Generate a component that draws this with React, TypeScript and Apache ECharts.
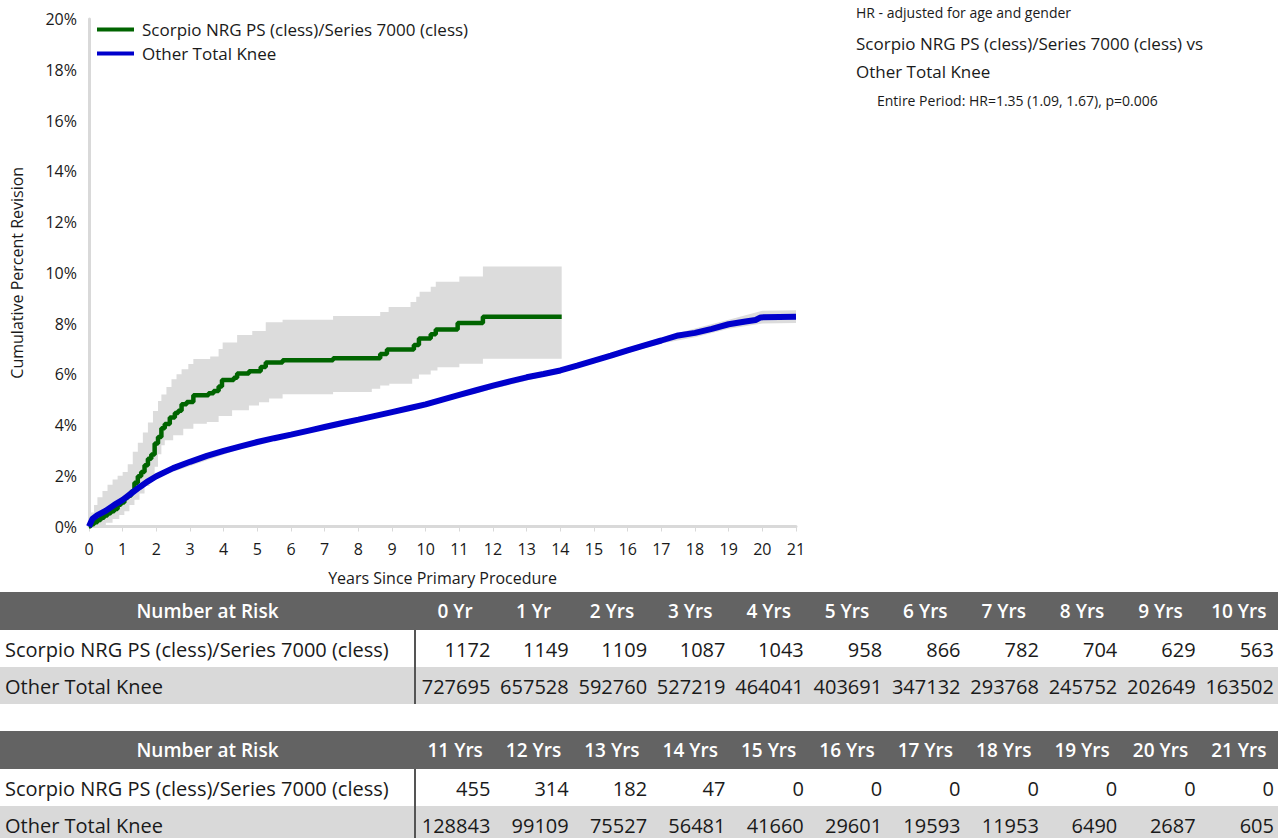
import React, { useEffect, useRef } from 'react';
import * as echarts from 'echarts';

const FONT = '"Open Sans", "Noto Sans", sans-serif';

const seriesNames = ['Scorpio NRG PS (cless)/Series 7000 (cless)', 'Other Total Knee'];

// Scorpio KM estimate (step function: value holds from time onward)
const scorpioTimes = [0, 0.05, 0.15, 0.25, 0.35, 0.45, 0.55, 0.65, 0.75, 0.85, 0.95, 1.05, 1.15, 1.25, 1.35, 1.45, 1.55, 1.65, 1.75, 1.85, 1.95, 2.05, 2.15, 2.25, 2.4, 2.55, 2.65, 2.75, 2.9, 3.1, 3.55, 3.7, 3.85, 3.95, 4.3, 4.4, 4.75, 5.1, 5.25, 5.75, 7.25, 8.65, 8.85, 9.65, 9.8, 10.15, 10.3, 10.95, 11.7, 14.04];
const scorpioCum = [0, 0.09, 0.17, 0.26, 0.34, 0.43, 0.52, 0.6, 0.69, 0.86, 0.95, 1.12, 1.21, 1.38, 1.72, 1.98, 2.15, 2.41, 2.67, 2.84, 3.27, 3.53, 3.87, 4.04, 4.3, 4.47, 4.56, 4.82, 4.91, 5.17, 5.25, 5.34, 5.52, 5.77, 5.86, 6.03, 6.12, 6.29, 6.46, 6.55, 6.63, 6.8, 6.98, 7.15, 7.41, 7.58, 7.76, 8.02, 8.27, 8.27];

const scorpioUpperTimes = [0, 0.05, 0.15, 0.25, 0.4, 0.55, 0.7, 0.85, 1.0, 1.15, 1.3, 1.45, 1.6, 1.75, 1.9, 2.05, 2.15, 2.3, 2.45, 2.6, 2.75, 2.95, 3.1, 3.6, 3.85, 3.97, 4.4, 4.85, 5.25, 5.75, 7.25, 8.65, 8.9, 9.55, 9.72, 9.82, 10.15, 10.3, 11.0, 11.7, 14.04];
const scorpioUpper = [0, 0.55, 0.85, 1.15, 1.4, 1.65, 1.85, 2.0, 2.15, 2.45, 2.95, 3.3, 3.7, 4.1, 4.55, 4.95, 5.2, 5.5, 5.8, 6.0, 6.2, 6.4, 6.6, 6.7, 7.0, 7.25, 7.55, 7.7, 8.05, 8.15, 8.3, 8.45, 8.65, 8.85, 9.05, 9.25, 9.45, 9.65, 9.85, 10.25, 10.25];

const scorpioLowerTimes = [0, 0.3, 0.5, 0.7, 0.9, 1.05, 1.2, 1.35, 1.5, 1.65, 1.8, 1.95, 2.05, 2.15, 2.25, 2.5, 2.8, 3.1, 3.5, 3.85, 4.25, 4.75, 5.05, 5.35, 5.75, 7.25, 8.4, 8.65, 8.92, 9.6, 9.8, 10.15, 10.35, 11.0, 11.7, 14.04];
const scorpioLower = [0, 0.05, 0.15, 0.3, 0.45, 0.6, 0.85, 1.05, 1.3, 1.6, 1.95, 2.35, 2.85, 3.2, 3.4, 3.6, 3.85, 4.05, 4.12, 4.35, 4.58, 4.77, 4.9, 5.04, 5.21, 5.3, 5.43, 5.56, 5.63, 5.82, 5.99, 6.15, 6.28, 6.41, 6.61, 6.61];

// Other Total Knee
const otherTimes = [0, 0.1, 0.25, 0.5, 0.75, 1.0, 1.25, 1.5, 1.75, 2.0, 2.5, 3.0, 3.5, 4.0, 4.5, 5.0, 5.5, 6.0, 6.5, 7.0, 7.5, 8.0, 8.5, 9.0, 9.5, 10.0, 10.5, 11.0, 11.5, 12.0, 12.5, 13.0, 13.5, 14.0, 14.5, 15.0, 15.5, 16.0, 16.5, 17.0, 17.5, 18.0, 18.5, 19.0, 19.5, 19.8, 19.95, 20.5, 21.0];
const otherCum = [0, 0.3, 0.45, 0.62, 0.85, 1.05, 1.3, 1.55, 1.78, 1.98, 2.3, 2.55, 2.78, 2.98, 3.16, 3.33, 3.48, 3.62, 3.77, 3.92, 4.07, 4.21, 4.36, 4.51, 4.66, 4.81, 5.0, 5.19, 5.37, 5.55, 5.72, 5.88, 6.01, 6.15, 6.34, 6.54, 6.73, 6.94, 7.14, 7.33, 7.53, 7.63, 7.79, 7.97, 8.08, 8.14, 8.24, 8.26, 8.27];

const otherBandTimes = [0, 2, 5, 10, 14, 16, 17, 18, 19, 20, 21];
const otherUpper = [0, 2.03, 3.37, 4.86, 6.22, 7.04, 7.45, 7.8, 8.15, 8.5, 8.52];
const otherLower = [0, 1.93, 3.29, 4.76, 6.08, 6.84, 7.21, 7.46, 7.79, 8.0, 8.02];

// Number at risk
const riskHeaders1 = ['0 Yr', '1 Yr', '2 Yrs', '3 Yrs', '4 Yrs', '5 Yrs', '6 Yrs', '7 Yrs', '8 Yrs', '9 Yrs', '10 Yrs'];
const riskScorpio1 = [1172, 1149, 1109, 1087, 1043, 958, 866, 782, 704, 629, 563];
const riskOther1 = [727695, 657528, 592760, 527219, 464041, 403691, 347132, 293768, 245752, 202649, 163502];
const riskHeaders2 = ['11 Yrs', '12 Yrs', '13 Yrs', '14 Yrs', '15 Yrs', '16 Yrs', '17 Yrs', '18 Yrs', '19 Yrs', '20 Yrs', '21 Yrs'];
const riskScorpio2 = [455, 314, 182, 47, 0, 0, 0, 0, 0, 0, 0];
const riskOther2 = [128843, 99109, 75527, 56481, 41660, 29601, 19593, 11953, 6490, 2687, 605];

const GREEN = '#006400';
const BLUE = '#0000cc';
const BAND = '#dcdcdc';

function stepPts(ts: number[], vs: number[]) {
  const out: number[][] = [];
  for (let i = 0; i < ts.length; i++) {
    if (i > 0) out.push([ts[i], vs[i - 1]]);
    out.push([ts[i], vs[i]]);
  }
  return out;
}
function pairs(ts: number[], vs: number[]) {
  return ts.map((t, i) => [t, vs[i]]);
}

function bandSeries(upper: number[][], lower: number[][], z: number) {
  return {
    type: 'custom',
    coordinateSystem: 'cartesian2d',
    silent: true,
    z,
    data: [[0, 0]],
    renderItem: (params: any, api: any) => {
      const pts = upper.map((p) => api.coord(p)).concat(lower.slice().reverse().map((p) => api.coord(p)));
      return { type: 'polygon', shape: { points: pts }, style: { fill: BAND } };
    },
  };
}

function buildTable(top: number, headers: string[], scorp: number[], other: number[]) {
  const els: any[] = [];
  const left = 0, right = 1278, sep = 415;
  const colStart = 416;
  const colW = (right - colStart) / headers.length;
  const hH = 38, rH = 37;
  els.push({ type: 'rect', shape: { x: left, y: top, width: right - left, height: hH }, style: { fill: '#636363' } });
  els.push({ type: 'rect', shape: { x: left, y: top + hH + rH, width: right - left, height: rH }, style: { fill: '#d9d9d9' } });
  els.push({ type: 'line', shape: { x1: sep, y1: top + hH, x2: sep, y2: top + hH + 2 * rH }, style: { stroke: '#555555', lineWidth: 2 } });
  const hdrStyle = { fill: '#ffffff', font: `600 19px ${FONT}`, align: 'center', verticalAlign: 'middle' };
  els.push({ type: 'text', x: sep / 2, y: top + hH / 2, style: { ...hdrStyle, text: 'Number at Risk' } });
  headers.forEach((h, i) => {
    els.push({ type: 'text', x: colStart + colW * (i + 0.5), y: top + hH / 2, style: { ...hdrStyle, text: h } });
  });
  const rowStyle = { fill: '#1a1a1a', font: `20px ${FONT}`, verticalAlign: 'middle' };
  const y1 = top + hH + rH / 2 + 1;
  const y2 = top + hH + rH * 1.5 + 1;
  els.push({ type: 'text', x: 5, y: y1, style: { ...rowStyle, align: 'left', text: seriesNames[0] } });
  els.push({ type: 'text', x: 5, y: y2, style: { ...rowStyle, align: 'left', text: seriesNames[1] } });
  scorp.forEach((v, i) => {
    els.push({ type: 'text', x: colStart + colW * (i + 1) - 4, y: y1, style: { ...rowStyle, align: 'right', text: String(v) } });
  });
  other.forEach((v, i) => {
    els.push({ type: 'text', x: colStart + colW * (i + 1) - 4, y: y2, style: { ...rowStyle, align: 'right', text: String(v) } });
  });
  return els;
}

export default function App() {
  const ref = useRef<HTMLDivElement>(null);
  useEffect(() => {
    if (!ref.current) return;
    const chart = echarts.init(ref.current, undefined, { renderer: 'svg' });
    const graphics: any[] = [
      { type: 'text', x: 856, y: 12, style: { text: 'HR - adjusted for age and gender', font: `14px ${FONT}`, fill: '#1a1a1a', verticalAlign: 'middle' } },
      { type: 'text', x: 856, y: 43, style: { text: 'Scorpio NRG PS (cless)/Series 7000 (cless) vs', font: `17px ${FONT}`, fill: '#1a1a1a', verticalAlign: 'middle' } },
      { type: 'text', x: 856, y: 71, style: { text: 'Other Total Knee', font: `17px ${FONT}`, fill: '#1a1a1a', verticalAlign: 'middle' } },
      { type: 'text', x: 877, y: 100, style: { text: 'Entire Period: HR=1.35 (1.09, 1.67), p=0.006', font: `14px ${FONT}`, fill: '#1a1a1a', verticalAlign: 'middle' } },
      ...buildTable(592, riskHeaders1, riskScorpio1, riskOther1),
      ...buildTable(731, riskHeaders2, riskScorpio2, riskOther2),
    ];
    chart.setOption({
      animation: false,
      backgroundColor: '#ffffff',
      textStyle: { fontFamily: FONT },
      grid: { left: 89, top: 19, right: 486, bottom: 311.5, containLabel: false },
      legend: {
        data: seriesNames,
        orient: 'vertical',
        left: 92,
        top: 16,
        icon: 'rect',
        itemWidth: 37,
        itemHeight: 4,
        itemGap: 7,
        textStyle: { fontSize: 17, color: '#1a1a1a', fontFamily: FONT, padding: [0, 0, 0, 3] },
      },
      xAxis: {
        type: 'value',
        min: 0,
        max: 21,
        interval: 1,
        name: 'Years Since Primary Procedure',
        nameLocation: 'middle',
        nameGap: 43,
        nameTextStyle: { fontSize: 16, color: '#1a1a1a', fontFamily: FONT },
        axisLine: { show: true, lineStyle: { color: '#d9d9d9', width: 3 } },
        axisTick: { show: true, length: 5, lineStyle: { color: '#d9d9d9', width: 1 } },
        axisLabel: { fontSize: 16, color: '#1a1a1a', margin: 14, fontFamily: FONT },
        splitLine: { show: false },
      },
      yAxis: {
        type: 'value',
        min: 0,
        max: 20,
        interval: 2,
        name: 'Cumulative Percent Revision',
        nameLocation: 'middle',
        nameGap: 64,
        nameTextStyle: { fontSize: 16, color: '#1a1a1a', fontFamily: FONT },
        axisLine: { show: true, lineStyle: { color: '#d9d9d9', width: 3 } },
        axisTick: { show: false },
        axisLabel: { fontSize: 16, color: '#1a1a1a', margin: 12, formatter: '{value}%', fontFamily: FONT },
        splitLine: { show: false },
      },
      series: [
        bandSeries(stepPts(scorpioUpperTimes, scorpioUpper), stepPts(scorpioLowerTimes, scorpioLower), 1),
        bandSeries(pairs(otherBandTimes, otherUpper), pairs(otherBandTimes, otherLower), 1),
        {
          name: seriesNames[0],
          type: 'line',
          z: 3,
          showSymbol: false,
          symbol: 'none',
          color: GREEN,
          lineStyle: { color: GREEN, width: 4.5 },
          data: stepPts(scorpioTimes, scorpioCum),
        },
        {
          name: seriesNames[1],
          type: 'line',
          z: 4,
          showSymbol: false,
          symbol: 'none',
          color: BLUE,
          lineStyle: { color: BLUE, width: 6 },
          data: pairs(otherTimes, otherCum),
        },
      ],
      graphic: graphics,
    });
    return () => chart.dispose();
  }, []);
  return <div ref={ref} style={{ position: 'absolute', left: 0, top: 0, width: 1282, height: 838 }} />;
}
